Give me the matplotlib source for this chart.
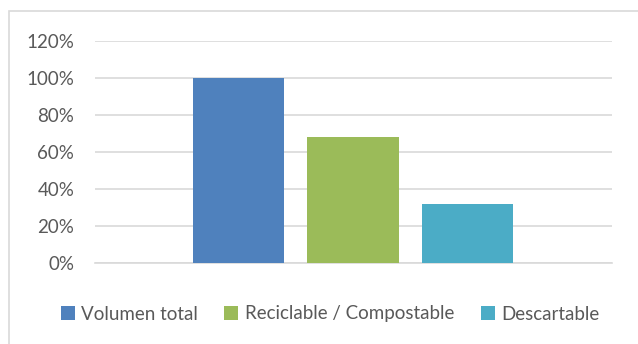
import numpy as np
import matplotlib
matplotlib.use('Agg')

import matplotlib.pyplot as plt
from matplotlib.patches import Rectangle
from matplotlib.ticker import PercentFormatter

# ---------- DATA ----------
series_names = ["Volumen total", "Reciclable / Compostable", "Descartable"]
series_values = [100, 68, 32]
series_colors = ["#4F81BD", "#9BBB59", "#4BACC6"]
y_ticks = [0, 20, 40, 60, 80, 100, 120]

plt.rcParams['font.family'] = ['Lato', 'DejaVu Sans']

# ---------- FIGURE ----------
fig = plt.figure(figsize=(6.38, 3.44), dpi=100)
ax = fig.add_axes([95 / 638, 1 - 263.3 / 344, 517 / 638, (263.3 - 41) / 344])

# chart border (Excel style)
fig.patches.append(Rectangle((9 / 638, -0.05), 1.0, 1 - 11 / 344 + 0.05,
                             transform=fig.transFigure, fill=False,
                             edgecolor="#d9d9d9", linewidth=1.2, zorder=0))

x = np.arange(len(series_values))
for i in range(len(series_values)):
    ax.bar(x[i], series_values[i], width=0.795, color=series_colors[i],
           label=series_names[i], zorder=3)

ax.set_xlim(-1.253, 3.262)
ax.set_ylim(0, 120)
ax.set_yticks(y_ticks)
ax.yaxis.set_major_formatter(PercentFormatter(decimals=0))
ax.set_xticks([])

ax.grid(axis='y', color="#d9d9d9", linewidth=1.2, zorder=0)
for side in ["top", "right", "left"]:
    ax.spines[side].set_visible(False)
ax.spines["bottom"].set_color("#d9d9d9")
ax.spines["bottom"].set_linewidth(1.2)

ax.tick_params(axis='y', length=0, pad=15, labelsize=13.5, labelcolor="#595959")

# ---------- LEGEND ----------
fig.legend(loc="center", bbox_to_anchor=(330 / 638, 1 - 314 / 344), ncol=3,
           frameon=False, fontsize=13.5, labelcolor="#595959",
           handlelength=0.75, handleheight=0.75, handletextpad=0.35,
           columnspacing=1.4)

fig.savefig("out.png", dpi=100)
